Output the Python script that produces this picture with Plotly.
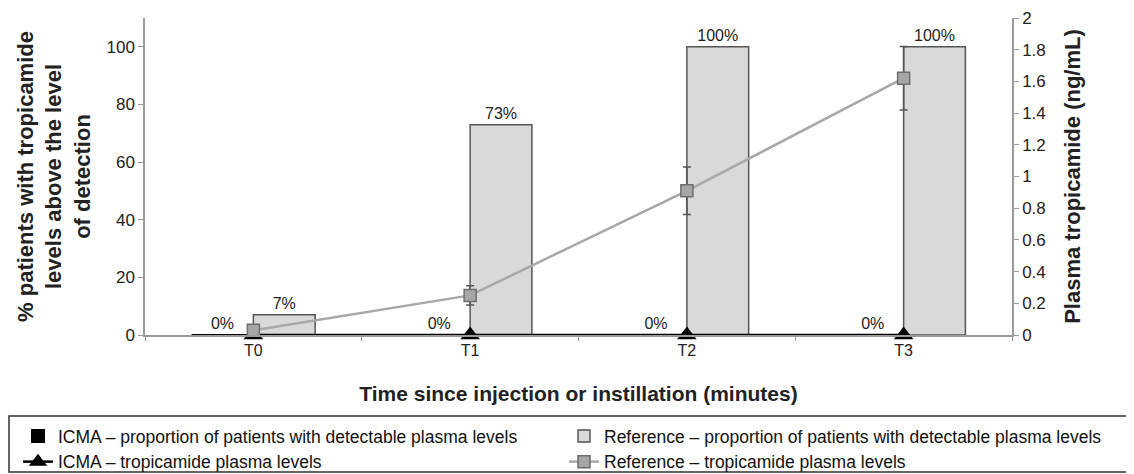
import plotly.graph_objects as go

categories = ["T0", "T1", "T2", "T3"]
icma_prop = [0, 0, 0, 0]
ref_prop = [7, 73, 100, 100]
icma_plasma = [0, 0, 0, 0]
ref_plasma = [0.03, 0.25, 0.91, 1.62]
ref_plasma_err = [0.01, 0.06, 0.15, 0.2]

left_ticks = [0, 20, 40, 60, 80, 100]
right_ticks = [0, 0.2, 0.4, 0.6, 0.8, 1, 1.2, 1.4, 1.6, 1.8, 2]

FONT = "Liberation Sans, Arial, sans-serif"

# page body has an 8px margin; compensate so the plot area lands at the reference position
OFF = 8
W, H = 1134 - OFF, 474 - OFF
PTOP = 18  # plot-area top in page pixels
ML, MR, MT, MB = 145 - OFF, 122, PTOP - OFF, 139
PX0, PW, PY0, PH = 145, 867, 335, 335 - PTOP  # plot area in page pixels


def px(x):
    return (x - PX0) / PW


def py(y):
    return (PY0 - y) / PH


fig = go.Figure()
fig.add_trace(go.Bar(
    x=categories, y=icma_prop, name="ICMA – proportion of patients with detectable plasma levels",
    marker=dict(color="black", line=dict(color="black", width=2)),
    text=[f"{v}%" for v in icma_prop], textposition="outside",
    textfont=dict(size=16, color="#222"), cliponaxis=False, yaxis="y", legend="legend",
))
fig.add_trace(go.Bar(
    x=categories, y=ref_prop, name="Reference – proportion of patients with detectable plasma levels",
    marker=dict(color="#d9d9d9", line=dict(color="#555555", width=1.5)),
    text=[f"{v}%" for v in ref_prop], textposition="outside",
    textfont=dict(size=16, color="#222"), cliponaxis=False, yaxis="y", legend="legend2",
))
fig.add_trace(go.Scatter(
    x=categories, y=icma_plasma, name="ICMA – tropicamide plasma levels",
    mode="lines+markers", line=dict(color="black", width=2.5),
    marker=dict(symbol="triangle-up", size=17, color="black"),
    cliponaxis=False, yaxis="y2", legend="legend",
))
fig.add_trace(go.Scatter(
    x=categories, y=ref_plasma, name="Reference – tropicamide plasma levels",
    mode="lines+markers", line=dict(color="#a8a8a8", width=2.5),
    marker=dict(symbol="square", size=12, color="#a6a6a6", line=dict(color="#6e6e6e", width=1.5)),
    error_y=dict(type="data", array=ref_plasma_err, color="#555555", thickness=1.5, width=4),
    cliponaxis=False, yaxis="y2", legend="legend2",
))

legend_common = dict(
    orientation="v", xanchor="left", yanchor="top",
    font=dict(family=FONT, size=17.5, color="#111"), itemwidth=30, tracegroupgap=0,
    bgcolor="rgba(0,0,0,0)", traceorder="normal", borderwidth=0,
)

fig.update_layout(
    width=W, height=H,
    margin=dict(l=ML, r=MR, t=MT, b=MB, autoexpand=False),
    paper_bgcolor="white", plot_bgcolor="white",
    font=dict(family=FONT, size=15, color="#222"),
    barmode="group", bargap=0.43, bargroupgap=0,
    xaxis=dict(
        type="category", showline=True, linecolor="#9a9a9a", linewidth=1.5,
        ticks="outside", tickson="boundaries", ticklen=4, tickcolor="#9a9a9a",
        tickfont=dict(size=16), showgrid=False,
        title=dict(text="<b>Time since injection or instillation (minutes)</b>",
                   font=dict(size=21), standoff=28),
    ),
    yaxis=dict(
        range=[0, 110], tickvals=left_ticks, showgrid=False, zeroline=False,
        showline=True, linecolor="#9a9a9a", linewidth=1.5, ticklabeloverflow="allow",
        ticks="outside", ticklen=5, tickcolor="#9a9a9a", tickfont=dict(size=17),
        title=dict(text="<b>% patients with tropicamide<br>levels above the level<br>of detection</b>",
                   font=dict(size=22), standoff=10),
    ),
    yaxis2=dict(
        range=[0, 2], tickvals=right_ticks, overlaying="y", side="right",
        showgrid=False, zeroline=False, showline=True, linecolor="#9a9a9a", linewidth=1.5,
        ticklabeloverflow="allow",
        ticks="outside", ticklen=5, tickcolor="#9a9a9a", tickfont=dict(size=17),
        title=dict(text="<b>Plasma tropicamide (ng/mL)</b>", font=dict(size=22), standoff=20),
    ),
    showlegend=True,
    legend=dict(x=px(18), y=py(418), **legend_common),
    legend2=dict(x=px(564), y=py(418), **legend_common),
    shapes=[dict(
        type="rect", xref="paper", yref="paper",
        x0=px(9), x1=px(1132), y0=py(472), y1=py(416),
        line=dict(color="#333", width=1.5), fillcolor="rgba(0,0,0,0)",
    )],
)

fig.write_html("out.html")
